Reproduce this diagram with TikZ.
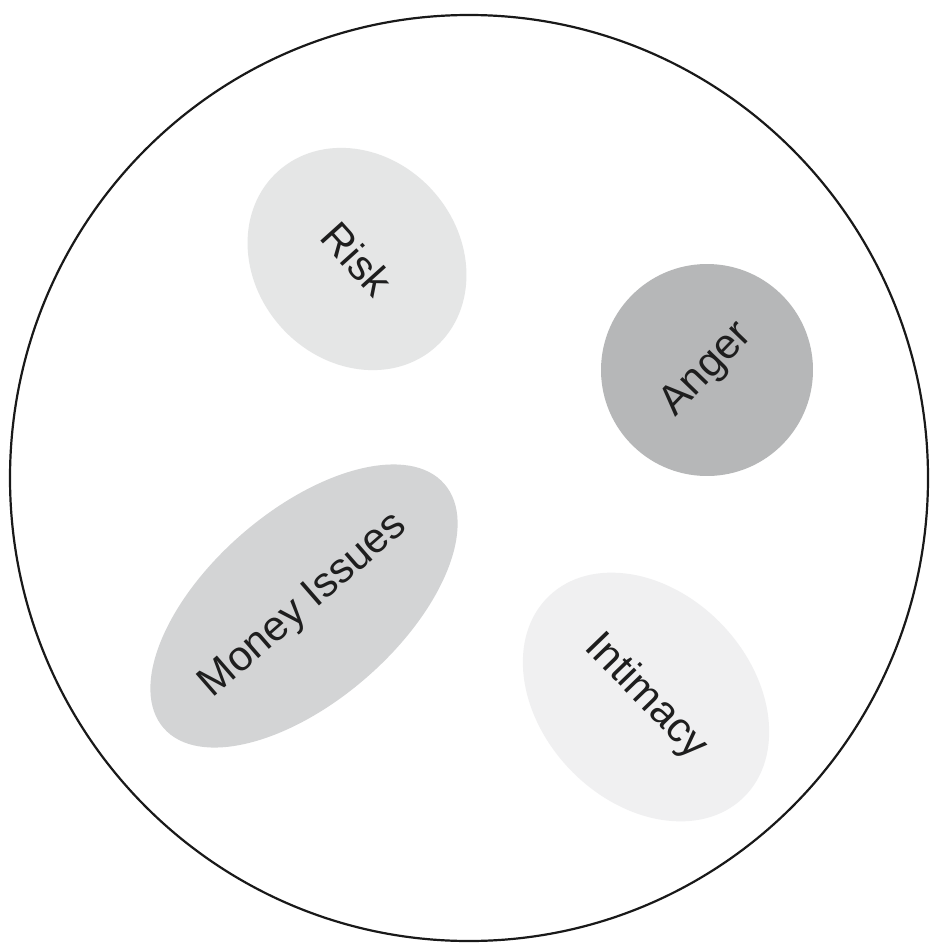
\documentclass[tikz,border=0pt]{standalone}
\usepackage{fontspec}
\setmainfont{Liberation Sans}
\usetikzlibrary{shapes.geometric}
\definecolor{riskc}{RGB}{229,230,230}
\definecolor{angerc}{RGB}{182,183,184}
\definecolor{moneyc}{RGB}{211,212,213}
\definecolor{intc}{RGB}{240,240,241}
\definecolor{txt}{RGB}{30,30,30}
\tikzset{
  blob/.style={ellipse, inner sep=0pt, text=txt, font=\fontsize{42}{48}\selectfont},
  frame/.style={draw=black!90, line width=2.2pt}
}
\begin{document}
\begin{tikzpicture}[x=1pt,y=-1pt]
\useasboundingbox (0,0) rectangle (935,944);
\fill[white] (0,0) rectangle (935,944);
\draw[frame] (469,478) ellipse [x radius=459, y radius=463];
\node[blob, fill=riskc, minimum width=236pt, minimum height=204pt, rotate=-48] (risk) at (357,259) {Risk};
\node[blob, fill=angerc, minimum width=212pt, minimum height=212pt, rotate=46] (anger) at (707,370) {Anger};
\node[blob, fill=moneyc, minimum width=372pt, minimum height=190pt, rotate=41] (money) at (304,606) {Money Issues};
\node[blob, fill=intc, minimum width=280pt, minimum height=210pt, rotate=-46] (intimacy) at (646,697) {Intimacy};
\end{tikzpicture}
\end{document}
